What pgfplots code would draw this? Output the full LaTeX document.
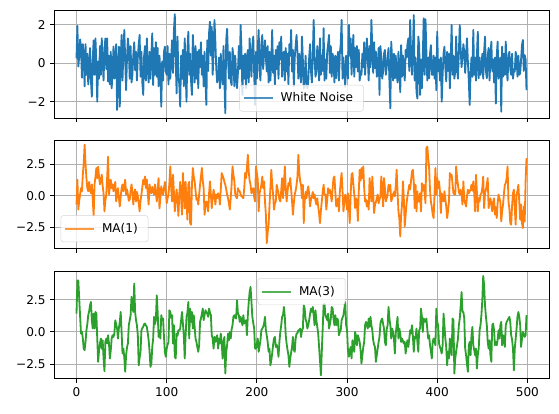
\documentclass[border=0pt]{standalone}
\usepackage{fontspec}
\setmainfont{DejaVu Sans}
\usepackage{pgfplots}
\pgfplotsset{compat=1.18}
\definecolor{C0}{HTML}{1F77B4}
\definecolor{C1}{HTML}{FF7F0E}
\definecolor{C2}{HTML}{2CA02C}
\definecolor{mplgrid}{HTML}{B0B0B0}
\definecolor{legedge}{HTML}{CCCCCC}
\pgfplotsset{panel/.style={
  scale only axis, width=409.6pt,
  xmin=-24.95, xmax=523.95,
  xtick={0,100,200,300,400,500},
  tick align=outside, tick pos=left,
  major tick length=3.5pt,
  every tick/.style={black, line width=0.8pt},
  axis line style={black, line width=0.8pt},
  grid=major, major grid style={color=mplgrid, line width=0.8pt},
  /pgf/number format/assume math mode=true,
  tick label style={font=\fontsize{10}{12}\selectfont},
  legend style={draw=legedge, fill=white, fill opacity=0.8, draw opacity=0.8, text opacity=1,
    rounded corners=2pt, font=\fontsize{10}{12}\selectfont, inner xsep=3pt, inner ysep=2.5pt,
    nodes={inner xsep=5.5pt, inner ysep=3.8pt}},
  legend cell align=left,
  legend image code/.code={\draw[#1] (0pt,0pt) -- (24pt,0pt);},
  every axis plot/.append style={line width=1.5pt, line join=round},
}}
\begin{document}
\begin{tikzpicture}
\useasboundingbox (0pt,0pt) rectangle (462.57pt,341.76pt);
% ---------------- White noise
\begin{axis}[panel, at={(44.69pt,244.11pt)}, anchor=south west, height=89.37pt,
  ymin=-2.85, ymax=2.78, ytick={-2,0,2}, yticklabels={−2,0,2}, xticklabels={},
  legend style={at={(0.5,0.06)}, anchor=south}]
\addplot[C0] table[row sep=\\, header=false, x expr=\coordindex, y index=0]{
0.26\\1.95\\-0.17\\0.35\\1.25\\0.85\\-0.75\\1.0\\0.4\\-1.2\\
1.0\\-0.6\\0.5\\-1.1\\-0.3\\0.8\\-0.9\\-1.74\\0.2\\1.2\\
-0.6\\1.3\\0.1\\-2.0\\0.1\\-0.8\\0.9\\-0.6\\1.3\\0.2\\
-0.9\\0.7\\1.3\\-0.3\\1.3\\-0.95\\0.4\\-1.1\\0.6\\-1.3\\
-0.5\\0.87\\-0.8\\0.3\\1.0\\-2.43\\-0.4\\0.87\\-2.26\\0.2\\
1.48\\-0.9\\0.6\\1.74\\0.2\\-1.4\\0.3\\1.3\\0.7\\-0.8\\
0.9\\-1.0\\-0.6\\0.45\\1.1\\-0.35\\0.6\\-0.9\\0.3\\1.0\\
1.48\\-0.7\\0.6\\-1.0\\-1.65\\0.4\\0.9\\-0.9\\1.3\\-0.3\\
-1.0\\0.6\\-0.8\\0.4\\1.57\\-1.13\\0.8\\-0.6\\1.1\\-0.7\\
0.8\\-1.2\\0.4\\-0.5\\-2.26\\0.1\\-0.9\\0.6\\0.87\\-0.4\\
-0.6\\0.9\\-1.1\\0.5\\-0.8\\0.3\\1.2\\-0.5\\1.65\\2.56\\
0.2\\-1.57\\1.4\\-0.7\\-1.1\\-2.26\\0.4\\-0.8\\0.7\\-1.2\\
1.3\\-0.4\\-2.0\\0.7\\1.65\\-0.6\\0.5\\-0.9\\-1.65\\1.48\\
0.3\\-1.0\\0.9\\-0.8\\0.6\\-1.3\\0.7\\-0.2\\1.1\\-0.6\\
0.4\\-1.2\\0.6\\-1.0\\-2.17\\1.2\\-0.4\\1.6\\2.17\\0.4\\
1.9\\-0.6\\0.6\\2.26\\1.1\\-0.3\\-1.0\\-0.78\\0.3\\-1.3\\
0.5\\-0.7\\-1.1\\0.9\\-0.9\\-2.6\\1.2\\1.8\\0.3\\-0.8\\
0.6\\-0.9\\-1.13\\0.8\\0.3\\-1.2\\0.4\\-0.6\\-1.3\\-0.5\\
0.9\\-0.3\\2.0\\0.6\\-1.65\\0.4\\-0.8\\0.5\\-1.3\\0.2\\
0.7\\-1.0\\1.3\\0.2\\-0.7\\0.9\\1.4\\-0.5\\-2.17\\0.6\\
-0.8\\0.8\\1.74\\-0.4\\-0.9\\1.0\\1.48\\-0.3\\0.5\\1.2\\
0.3\\-0.43\\0.9\\-1.0\\0.6\\-0.9\\0.1\\1.74\\-0.5\\0.4\\
-1.1\\0.7\\-0.3\\0.9\\-0.8\\1.1\\0.2\\1.4\\-0.7\\0.5\\
0.6\\-0.9\\0.8\\-0.43\\0.5\\-1.1\\1.0\\0.4\\1.74\\-0.43\\
0.7\\-1.2\\0.3\\0.9\\1.48\\0.6\\-0.8\\0.5\\-0.3\\-1.0\\
1.4\\0.2\\-1.3\\-1.13\\0.4\\-0.8\\-1.3\\-0.95\\0.3\\1.0\\
-0.4\\-1.0\\0.4\\2.26\\0.3\\-0.7\\-0.43\\0.9\\0.3\\-0.9\\
1.3\\-0.6\\0.4\\-0.4\\1.83\\-0.9\\0.2\\-0.8\\0.6\\1.0\\
1.48\\-0.5\\0.9\\-0.7\\0.5\\0.2\\-1.0\\0.4\\-0.78\\0.1\\
0.6\\-0.9\\0.5\\1.0\\2.26\\-0.8\\0.3\\-0.5\\-1.22\\0.4\\
-0.3\\-0.8\\2.0\\0.4\\1.3\\-0.6\\0.6\\1.48\\-0.7\\0.8\\
-0.2\\0.9\\-0.43\\0.7\\-0.9\\-0.5\\-0.6\\0.5\\-0.2\\1.1\\
-0.6\\0.4\\1.3\\0.3\\-0.9\\0.9\\-0.2\\2.26\\0.8\\-0.5\\
1.1\\-0.26\\0.6\\-0.7\\-0.4\\0.8\\-1.65\\0.9\\0.3\\-0.8\\
-0.43\\0.5\\0.7\\-0.6\\-0.2\\0.3\\0.8\\-0.9\\-2.35\\1.13\\
0.2\\-0.9\\0.5\\-0.78\\0.4\\-0.5\\-1.0\\0.6\\-0.3\\-1.5\\
0.95\\-0.7\\0.4\\-0.3\\-0.9\\0.7\\0.3\\1.0\\1.3\\-0.4\\
2.26\\0.5\\-0.6\\0.6\\2.52\\-0.9\\0.3\\-1.5\\-1.83\\1.4\\
0.95\\-1.65\\0.2\\-1.3\\0.4\\2.35\\-0.6\\2.3\\0.6\\-0.9\\
0.3\\-0.78\\0.5\\0.95\\-0.6\\-0.6\\0.4\\-0.8\\0.3\\-1.4\\
1.65\\-0.4\\0.2\\-0.9\\0.3\\-2.0\\-0.6\\0.5\\0.87\\-0.2\\
-0.95\\0.6\\-0.4\\0.5\\-1.3\\0.3\\2.0\\-0.6\\0.4\\-0.8\\
-0.43\\1.4\\-0.3\\-0.8\\0.6\\2.0\\0.7\\-0.2\\0.3\\1.0\\
0.6\\-0.5\\0.4\\1.3\\0.1\\-0.9\\-2.17\\-0.5\\0.3\\-0.7\\
1.74\\-0.6\\0.3\\-0.9\\0.4\\1.65\\-0.78\\0.3\\-0.6\\-0.3\\
0.5\\-0.8\\0.6\\1.4\\-0.4\\-0.78\\0.4\\0.8\\-0.9\\0.3\\
1.13\\-0.4\\0.2\\-1.0\\0.3\\-2.1\\0.4\\1.13\\-0.8\\0.1\\
0.3\\-2.52\\0.87\\-0.7\\0.5\\-0.6\\1.13\\-0.3\\-0.9\\0.4\\
0.6\\-0.3\\-0.6\\0.5\\-0.8\\-0.4\\-0.43\\0.6\\0.3\\-0.7\\
0.4\\-0.6\\-0.52\\0.2\\0.95\\1.22\\-0.4\\0.43\\0.2\\-1.4\\
};
\addlegendentry{White Noise}
\end{axis}
% ---------------- MA(1)
\begin{axis}[panel, at={(44.69pt,136.29pt)}, anchor=south west, height=89.37pt,
  ymin=-4.17, ymax=4.4, ytick={-2.5,0,2.5}, yticklabels={−2.5,0.0,2.5}, xticklabels={},
  legend style={at={(0.0135,0.058)}, anchor=south west}]
\addplot[C1] table[row sep=\\, header=false, x expr=\coordindex, y index=0]{
-0.7\\1.27\\-1.1\\-0.4\\0.1\\0.6\\0.35\\1.67\\2.6\\4.05\\
2.5\\1.4\\0.6\\0.35\\1.1\\0.5\\0.2\\0.9\\-0.3\\-1.6\\
0.9\\1.5\\2.2\\1.4\\2.3\\1.5\\0.9\\1.2\\1.67\\0.8\\
0.2\\-1.24\\-0.4\\0.1\\1.5\\3.1\\0.1\\0.7\\1.27\\0.6\\
0.9\\0.35\\0.7\\1.1\\-0.45\\0.2\\0.6\\-0.2\\-0.85\\-0.1\\
0.6\\0.9\\0.35\\0.8\\1.27\\0.1\\0.5\\0.1\\-0.4\\-0.3\\
0.4\\0.9\\0.3\\-0.7\\0.2\\0.5\\-0.45\\0.3\\-0.05\\-0.6\\
-1.24\\-0.4\\0.1\\0.7\\1.27\\0.9\\1.53\\0.6\\1.27\\0.2\\
-0.7\\0.9\\0.4\\0.2\\0.7\\0.4\\0.1\\0.9\\0.3\\-0.45\\
0.5\\1.4\\-1.0\\-0.2\\0.75\\0.3\\0.1\\0.6\\1.1\\0.4\\
-0.6\\-0.2\\0.1\\1.0\\2.33\\0.6\\-0.45\\1.67\\0.3\\-1.24\\
-0.3\\0.5\\-0.4\\-1.6\\0.2\\1.1\\-0.2\\-1.5\\1.8\\0.4\\
-1.0\\1.1\\-0.6\\-1.9\\0.87\\1.1\\-2.17\\-2.3\\0.87\\2.2\\
1.5\\1.14\\0.4\\-0.32\\-0.2\\-0.7\\0.1\\0.87\\1.5\\2.2\\
1.2\\0.6\\-1.5\\-0.9\\-0.45\\-0.6\\-1.24\\0.2\\1.14\\0.1\\
-0.98\\-0.2\\0.48\\0.1\\-0.7\\0.1\\-0.2\\0.2\\0.0\\-0.7\\
0.5\\1.8\\1.6\\1.4\\1.1\\0.87\\0.5\\0.1\\-0.2\\-0.6\\
-1.1\\-0.2\\0.87\\2.33\\1.67\\1.2\\0.1\\-0.1\\-0.2\\0.6\\
0.4\\0.35\\0.1\\-0.05\\-0.1\\-0.2\\0.6\\1.8\\1.4\\2.2\\
3.25\\1.9\\1.2\\0.87\\0.2\\0.5\\0.6\\-0.1\\-0.45\\2.33\\
1.8\\1.27\\-1.24\\0.2\\0.5\\0.87\\1.53\\0.6\\1.14\\-0.45\\
-1.5\\-3.76\\-2.9\\-2.3\\-0.8\\0.6\\2.06\\0.9\\0.1\\-1.1\\
-0.6\\-0.45\\0.87\\0.5\\0.2\\-0.3\\-0.45\\0.4\\1.4\\-0.2\\
0.8\\2.33\\0.6\\-0.45\\0.3\\1.0\\0.8\\1.4\\0.5\\-0.45\\
-1.5\\-0.6\\0.1\\0.4\\0.87\\1.5\\3.25\\1.9\\1.14\\0.87\\
-0.2\\0.87\\-2.17\\-0.45\\0.3\\-0.2\\0.4\\0.75\\0.1\\-0.85\\
-0.3\\-0.05\\0.3\\-0.2\\0.1\\-0.4\\-0.7\\-0.2\\-0.85\\-1.4\\
-2.17\\-1.2\\-0.45\\0.3\\0.87\\0.1\\0.1\\-1.1\\-0.3\\0.6\\
0.2\\0.48\\0.1\\-0.45\\0.6\\1.4\\1.53\\0.3\\-0.85\\-0.7\\
-0.2\\-1.24\\0.3\\1.14\\1.8\\0.4\\-1.24\\-0.5\\0.1\\-0.3\\
-1.1\\0.2\\-0.9\\-2.17\\0.1\\1.67\\1.8\\0.9\\0.1\\-0.98\\
-0.2\\-0.45\\-2.0\\0.3\\2.06\\1.2\\2.2\\1.4\\2.33\\0.6\\
-0.45\\-0.3\\-0.85\\-0.4\\-1.1\\1.4\\0.4\\-0.45\\1.53\\0.2\\
-1.37\\-0.7\\-0.5\\-0.2\\0.1\\-0.6\\-0.3\\-0.05\\1.53\\0.4\\
-0.85\\1.4\\0.6\\-0.45\\-0.2\\0.1\\0.87\\0.4\\0.87\\-0.45\\
-0.2\\0.1\\0.3\\-0.05\\0.8\\2.06\\0.3\\-1.24\\-1.8\\-3.23\\
-1.5\\-0.7\\1.14\\-0.3\\-2.43\\-1.5\\-0.6\\-0.05\\0.4\\0.87\\
0.5\\1.2\\1.93\\2.06\\1.14\\-0.98\\0.87\\-1.24\\0.35\\-0.45\\
-0.45\\0.2\\-1.24\\1.0\\0.4\\0.87\\0.2\\-0.6\\3.78\\3.9\\
3.0\\2.2\\0.48\\-0.45\\-0.9\\-1.5\\-1.77\\0.1\\2.2\\0.1\\
1.4\\0.6\\1.14\\0.35\\-1.37\\0.2\\-0.2\\-0.45\\0.35\\-0.3\\
-0.85\\-1.77\\-1.2\\-0.45\\1.8\\1.5\\1.67\\0.9\\0.2\\0.1\\
0.1\\2.33\\1.4\\0.87\\0.3\\0.1\\0.48\\0.1\\-0.7\\1.14\\
-0.32\\-0.6\\-0.85\\-0.05\\0.48\\0.2\\0.35\\0.5\\0.87\\0.4\\
1.14\\0.2\\-1.24\\1.67\\0.3\\-1.24\\-0.2\\-0.45\\0.1\\0.2\\
0.6\\1.53\\-0.98\\0.2\\0.48\\0.9\\1.4\\-0.98\\-0.5\\-0.2\\
-0.7\\-1.24\\-0.5\\-0.2\\-1.5\\-0.9\\-1.77\\-0.6\\0.1\\-0.2\\
-0.45\\-2.04\\-1.2\\-0.7\\0.2\\0.87\\1.0\\1.4\\2.33\\-0.45\\
-1.0\\-2.17\\-2.3\\-0.8\\0.2\\0.48\\-1.0\\-2.3\\0.1\\0.4\\
0.87\\-0.5\\-1.9\\-0.7\\-2.17\\-2.57\\-0.85\\-2.04\\1.14\\2.99\\
};
\addlegendentry{MA(1)}
\end{axis}
% ---------------- MA(3)
\begin{axis}[panel, at={(44.69pt,28.38pt)}, anchor=south west, height=88.87pt,
  ymin=-3.64, ymax=4.71, ytick={-2.5,0,2.5}, yticklabels={−2.5,0.0,2.5},
  xticklabels={0,100,200,300,400,500},
  legend style={at={(0.5,0.935)}, anchor=north}]
\addplot[C2] table[row sep=\\, header=false, x expr=\coordindex, y index=0]{
1.42\\4.0\\4.0\\2.6\\1.2\\-0.13\\0.0\\-0.5\\-1.3\\-1.42\\
-0.78\\0.13\\0.6\\1.3\\1.6\\2.07\\2.33\\0.9\\0.26\\1.42\\
0.26\\1.55\\1.42\\-0.5\\-2.33\\-1.42\\-0.9\\-0.52\\-1.3\\-0.65\\
-2.07\\-3.06\\-0.78\\-0.52\\-0.9\\-0.26\\-0.9\\-2.07\\-1.42\\-0.5\\
-0.26\\-0.39\\-0.1\\0.9\\0.6\\0.26\\-0.52\\0.3\\0.78\\1.55\\
0.0\\-1.68\\-1.3\\-2.0\\-3.1\\-1.81\\-1.2\\-0.9\\0.52\\0.9\\
1.3\\2.72\\2.0\\1.55\\3.76\\1.55\\0.9\\0.52\\-0.26\\-2.6\\
-2.0\\-1.55\\0.13\\0.3\\0.39\\0.6\\0.65\\0.5\\0.39\\-0.1\\
-0.65\\-1.5\\-2.72\\-2.46\\-1.2\\-0.52\\1.17\\0.6\\0.9\\2.85\\
1.55\\-0.39\\0.1\\-0.52\\1.3\\0.9\\1.04\\-0.4\\-1.55\\-1.94\\
-1.3\\-1.0\\-0.78\\1.68\\1.55\\1.1\\1.3\\-0.91\\0.52\\-1.94\\
-2.07\\-0.13\\-0.3\\0.13\\0.1\\0.26\\0.9\\1.55\\0.65\\-0.3\\
-2.07\\-0.26\\1.17\\1.5\\2.33\\-0.52\\1.81\\0.78\\1.55\\0.26\\
1.3\\0.4\\-0.52\\-0.78\\-1.2\\-1.55\\-1.04\\0.78\\1.04\\1.4\\
1.81\\0.91\\1.3\\1.68\\1.55\\1.4\\1.17\\1.81\\1.5\\1.3\\
-0.26\\-0.52\\-1.3\\-0.39\\-0.78\\-0.5\\-0.26\\-1.3\\-0.52\\-0.91\\
-0.13\\-0.8\\-2.07\\-0.78\\-0.39\\-3.24\\-1.6\\-1.04\\-0.13\\-0.65\\
0.0\\-0.52\\0.2\\0.52\\1.17\\1.3\\1.1\\1.04\\2.46\\1.42\\
1.3\\0.78\\1.17\\0.8\\0.52\\1.3\\0.65\\0.8\\0.91\\-0.26\\
1.3\\2.33\\3.1\\3.5\\2.33\\1.17\\0.7\\0.26\\-1.3\\-1.3\\
-0.91\\-0.52\\-1.55\\-1.1\\-0.65\\0.13\\0.26\\0.4\\0.65\\1.17\\
0.13\\-0.3\\-0.78\\-1.55\\-1.3\\-2.6\\-2.2\\-1.68\\-1.0\\-0.52\\
-0.39\\-1.17\\-1.0\\-1.3\\-1.94\\-0.78\\0.0\\0.52\\1.17\\1.3\\
1.94\\1.17\\-0.26\\-0.91\\-1.4\\-1.81\\-2.72\\-2.07\\-1.6\\-1.17\\
-0.39\\-1.42\\-1.55\\-0.52\\-0.13\\-0.1\\0.13\\0.13\\0.26\\-0.4\\
0.13\\0.26\\2.07\\1.81\\1.0\\0.78\\0.26\\0.52\\0.91\\1.4\\
1.81\\1.55\\1.94\\1.3\\0.52\\1.68\\0.9\\0.39\\-0.13\\-1.17\\
-2.2\\-3.37\\-1.55\\0.26\\2.07\\2.2\\1.3\\1.1\\0.91\\1.42\\
0.26\\0.6\\1.04\\1.94\\1.81\\1.0\\0.52\\1.3\\0.52\\1.04\\
0.91\\-0.26\\0.0\\0.13\\0.91\\1.1\\1.3\\1.8\\2.33\\0.52\\
0.13\\-1.42\\-1.94\\-1.5\\-1.17\\-2.07\\-0.65\\-1.0\\-1.55\\0.0\\
-0.39\\-1.04\\-0.26\\-0.5\\-0.78\\-1.42\\-2.46\\-1.81\\-1.2\\-0.78\\
0.52\\0.78\\0.5\\0.26\\1.04\\0.39\\1.17\\0.52\\0.13\\-0.65\\
-1.0\\-1.17\\-2.33\\-1.81\\-1.3\\-0.78\\-0.39\\0.65\\0.91\\1.04\\
0.6\\0.26\\-0.78\\-1.04\\0.2\\0.52\\1.94\\1.04\\0.52\\-0.52\\
0.26\\0.0\\-0.52\\-1.68\\-0.13\\0.5\\1.17\\-0.52\\0.26\\-0.13\\
-0.78\\-0.52\\-0.7\\-0.91\\-0.78\\-1.68\\-1.0\\-0.65\\-1.17\\-0.52\\
0.13\\-0.13\\0.52\\-0.3\\-1.55\\-0.39\\-0.52\\0.26\\-0.78\\-1.55\\
0.13\\0.26\\1.81\\1.17\\0.0\\1.04\\0.91\\0.78\\1.04\\0.2\\
-0.52\\-0.26\\-1.04\\-1.5\\-2.07\\-0.78\\-0.52\\-0.7\\-1.04\\1.81\\
0.78\\0.52\\-0.91\\-1.17\\-1.4\\-1.68\\-1.04\\1.42\\0.52\\-0.52\\
-1.2\\-2.6\\-1.55\\-2.07\\-0.52\\-1.3\\-1.81\\1.04\\0.91\\-3.24\\
-2.07\\-1.5\\-1.04\\-0.52\\0.52\\1.04\\2.0\\3.1\\1.55\\1.55\\
1.04\\-1.3\\-1.81\\-2.5\\-3.1\\-1.04\\-0.78\\-1.81\\-0.26\\0.39\\
-1.04\\-1.4\\-1.81\\-1.3\\-2.85\\-1.8\\-1.3\\0.13\\0.52\\1.3\\
2.46\\4.35\\3.63\\2.07\\1.2\\0.52\\-0.78\\-1.3\\-0.65\\-1.81\\
-2.33\\0.52\\0.65\\0.13\\-1.04\\-0.78\\-1.04\\-0.6\\0.13\\-0.52\\
0.52\\0.78\\-1.04\\-0.26\\-0.7\\-1.17\\0.52\\0.78\\0.9\\1.04\\
1.17\\0.78\\-0.26\\-0.6\\-1.3\\-2.98\\-1.3\\-0.52\\0.26\\1.2\\
1.55\\1.17\\0.52\\-1.17\\-0.52\\0.0\\-0.2\\-0.39\\-0.26\\1.3\\
};
\addlegendentry{MA(3)}
\end{axis}
\end{tikzpicture}
\end{document}
